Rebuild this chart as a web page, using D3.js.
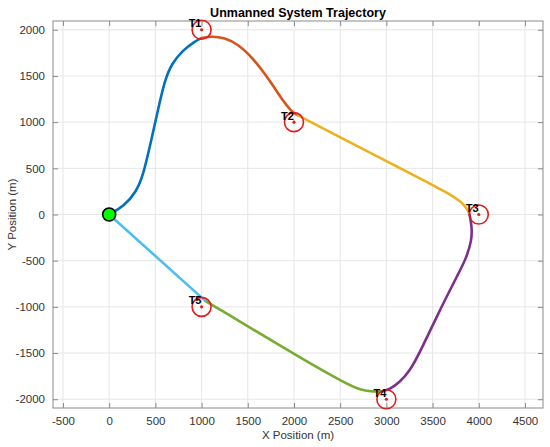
<!DOCTYPE html>
<html>
<head>
<meta charset="utf-8">
<script src="https://cdn.jsdelivr.net/npm/d3@7"></script>
<style>
  body { margin: 0; background: #fff; }
  text { font-family: "Liberation Sans", Arial, sans-serif; }
</style>
</head>
<body>
<div id="chart"></div>
<script>
// target points (m)
const targetNames = ['T1', 'T2', 'T3', 'T4', 'T5'];
const targetX = [1000, 2000, 4000, 3000, 1000];
const targetY = [2000, 1000, 0, -2000, -1000];

const startPoint = [0, 0];

// trajectory legs
const leg1 = [[0, 0], [160, 90], [290, 240], [370, 430], [450, 780], [530, 1140], [600, 1450], [680, 1640], [800, 1780], [920, 1870], [1000, 1910]];
const leg2 = [[1000, 1910], [1100, 1930], [1250, 1915], [1400, 1840], [1560, 1690], [1740, 1450], [1900, 1200], [1990, 1100], [2040, 1075]];
const leg3 = [[2040, 1075], [2400, 887], [2900, 630], [3400, 372], [3700, 215], [3820, 130], [3880, 50], [3900, 0]];
const leg4 = [[3900, 0], [3925, -130], [3925, -280], [3860, -480], [3800, -600], [3580, -1030], [3360, -1500], [3250, -1700], [3140, -1820], [3040, -1890], [2960, -1912]];
const leg5 = [[2960, -1912], [2860, -1920], [2720, -1900], [2560, -1830], [2100, -1570], [1600, -1270], [1250, -1060], [1040, -935]];
const leg6 = [[1040, -935], [0, 0]];

const legs = [leg1, leg2, leg3, leg4, leg5, leg6];
const legColors = ['#0072BD', '#D95319', '#EDB120', '#7E2F8E', '#77AC30', '#4DBEEE'];

const xTicks = [-500, 0, 500, 1000, 1500, 2000, 2500, 3000, 3500, 4000, 4500];
const yTicks = [-2000, -1500, -1000, -500, 0, 500, 1000, 1500, 2000];

const W = 550, H = 447;
const mLeft = 53, mRight = 543, mTop = 21, mBottom = 408;

const svg = d3.select('#chart').append('svg')
    .attr('width', W)
    .attr('height', H);

const x = d3.scaleLinear().domain([-608, 4695]).range([mLeft, mRight]);
const y = d3.scaleLinear().domain([-2095, 2095]).range([mBottom, mTop]);

// grid
svg.append('g').selectAll('line').data(xTicks).join('line')
    .attr('x1', d => x(d)).attr('x2', d => x(d))
    .attr('y1', mTop).attr('y2', mBottom)
    .attr('stroke', '#e6e6e6').attr('stroke-width', 1);
svg.append('g').selectAll('line').data(yTicks).join('line')
    .attr('y1', d => y(d)).attr('y2', d => y(d))
    .attr('x1', mLeft).attr('x2', mRight)
    .attr('stroke', '#e6e6e6').attr('stroke-width', 1);

// axes, ticks pointing inward
const axisColor = '#8a8a8a';
const plain = d => String(d);
const gx = svg.append('g')
    .attr('transform', `translate(0,${mBottom})`)
    .call(d3.axisBottom(x).tickValues(xTicks).tickFormat(plain).tickSize(-5).tickPadding(9).tickSizeOuter(0));
const gxTop = svg.append('g')
    .attr('transform', `translate(0,${mTop})`)
    .call(d3.axisTop(x).tickValues(xTicks).tickSize(-5).tickFormat('').tickSizeOuter(0));
const gy = svg.append('g')
    .attr('transform', `translate(${mLeft},0)`)
    .call(d3.axisLeft(y).tickValues(yTicks).tickFormat(plain).tickSize(-5).tickPadding(8).tickSizeOuter(0));
const gyRight = svg.append('g')
    .attr('transform', `translate(${mRight},0)`)
    .call(d3.axisRight(y).tickValues(yTicks).tickSize(-5).tickFormat('').tickSizeOuter(0));

[gx, gxTop, gy, gyRight].forEach(g => {
    g.select('.domain').remove();
    g.selectAll('.tick line').attr('stroke', axisColor);
    g.selectAll('text')
        .attr('fill', '#333')
        .style('font-size', '11.5px');
});

svg.append('rect')
    .attr('x', mLeft).attr('y', mTop)
    .attr('width', mRight - mLeft).attr('height', mBottom - mTop)
    .attr('fill', 'none').attr('stroke', axisColor).attr('stroke-width', 1);

// trajectory
const line = d3.line()
    .x(d => x(d[0]))
    .y(d => y(d[1]))
    .curve(d3.curveBasis);

svg.append('g').selectAll('path').data(legs).join('path')
    .attr('d', line)
    .attr('fill', 'none')
    .attr('stroke', (d, i) => legColors[i])
    .attr('stroke-width', 2.6)
    .attr('stroke-linecap', 'round');

// targets
const targets = targetNames.map((n, i) => ({name: n, x: targetX[i], y: targetY[i]}));

svg.append('g').selectAll('circle').data(targets).join('circle')
    .attr('cx', d => x(d.x)).attr('cy', d => y(d.y))
    .attr('r', 9.5)
    .attr('fill', 'none')
    .attr('stroke', '#e51a1a')
    .attr('stroke-width', 1.6);

svg.append('g').selectAll('circle').data(targets).join('circle')
    .attr('cx', d => x(d.x)).attr('cy', d => y(d.y))
    .attr('r', 1.6)
    .attr('fill', '#e51a1a');

svg.append('g').selectAll('text').data(targets).join('text')
    .attr('x', d => x(d.x - 140))
    .attr('y', d => y(d.y + 70))
    .attr('dy', '0.35em')
    .attr('fill', '#000')
    .style('font-size', '11px')
    .style('font-weight', 'bold')
    .text(d => d.name);

// start marker
svg.append('circle')
    .attr('cx', x(startPoint[0])).attr('cy', y(startPoint[1]))
    .attr('r', 6.5)
    .attr('fill', '#00ff00')
    .attr('stroke', '#000')
    .attr('stroke-width', 1.6);

// labels
svg.append('text')
    .attr('x', (mLeft + mRight) / 2).attr('y', 17)
    .attr('text-anchor', 'middle')
    .style('font-size', '12.5px')
    .style('font-weight', 'bold')
    .attr('fill', '#000')
    .text('Unmanned System Trajectory');

svg.append('text')
    .attr('x', (mLeft + mRight) / 2).attr('y', 439)
    .attr('text-anchor', 'middle')
    .style('font-size', '11.5px')
    .attr('fill', '#333')
    .text('X Position (m)');

svg.append('text')
    .attr('transform', `translate(16,${(mTop + mBottom) / 2}) rotate(-90)`)
    .attr('text-anchor', 'middle')
    .style('font-size', '11.5px')
    .attr('fill', '#333')
    .text('Y Position (m)');
</script>
</body>
</html>
